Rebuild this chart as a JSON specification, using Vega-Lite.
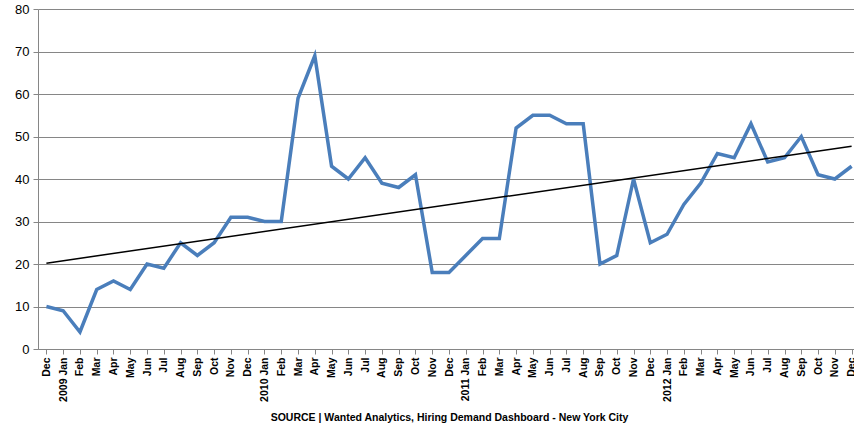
{
  "$schema": "https://vega.github.io/schema/vega-lite/v6.json",
  "autosize": "none",
  "width": 822,
  "height": 340,
  "padding": {"left": 38, "top": 9, "right": 0, "bottom": 83},
  "background": "white",
  "config": {"view": {"stroke": null}, "font": "Liberation Sans"},
  "data": {"values": [
    {"m": "Dec 2008", "v": 10, "trend": 20.2},
    {"m": "2009 Jan", "v": 9},
    {"m": "Feb 2009", "v": 4},
    {"m": "Mar 2009", "v": 14},
    {"m": "Apr 2009", "v": 16},
    {"m": "May 2009", "v": 14},
    {"m": "Jun 2009", "v": 20},
    {"m": "Jul 2009", "v": 19},
    {"m": "Aug 2009", "v": 25},
    {"m": "Sep 2009", "v": 22},
    {"m": "Oct 2009", "v": 25},
    {"m": "Nov 2009", "v": 31},
    {"m": "Dec 2009", "v": 31},
    {"m": "2010 Jan", "v": 30},
    {"m": "Feb 2010", "v": 30},
    {"m": "Mar 2010", "v": 59},
    {"m": "Apr 2010", "v": 69},
    {"m": "May 2010", "v": 43},
    {"m": "Jun 2010", "v": 40},
    {"m": "Jul 2010", "v": 45},
    {"m": "Aug 2010", "v": 39},
    {"m": "Sep 2010", "v": 38},
    {"m": "Oct 2010", "v": 41},
    {"m": "Nov 2010", "v": 18},
    {"m": "Dec 2010", "v": 18},
    {"m": "2011 Jan", "v": 22},
    {"m": "Feb 2011", "v": 26},
    {"m": "Mar 2011", "v": 26},
    {"m": "Apr 2011", "v": 52},
    {"m": "May 2011", "v": 55},
    {"m": "Jun 2011", "v": 55},
    {"m": "Jul 2011", "v": 53},
    {"m": "Aug 2011", "v": 53},
    {"m": "Sep 2011", "v": 20},
    {"m": "Oct 2011", "v": 22},
    {"m": "Nov 2011", "v": 40},
    {"m": "Dec 2011", "v": 25},
    {"m": "2012 Jan", "v": 27},
    {"m": "Feb 2012", "v": 34},
    {"m": "Mar 2012", "v": 39},
    {"m": "Apr 2012", "v": 46},
    {"m": "May 2012", "v": 45},
    {"m": "Jun 2012", "v": 53},
    {"m": "Jul 2012", "v": 44},
    {"m": "Aug 2012", "v": 45},
    {"m": "Sep 2012", "v": 50},
    {"m": "Oct 2012", "v": 41},
    {"m": "Nov 2012", "v": 40},
    {"m": "Dec 2012", "v": 43, "trend": 47.7}
  ]},
  "encoding": {
    "x": {
      "field": "m", "type": "ordinal", "sort": null,
      "scale": {"paddingInner": 0, "paddingOuter": 0},
      "axis": {
        "title": "SOURCE | Wanted Analytics, Hiring Demand Dashboard - New York City",
        "titleFont": "Liberation Sans", "titleFontSize": 10.5, "titleFontWeight": "bold", "titleColor": "#000000", "titlePadding": 11,
        "labelAngle": -90, "labelAlign": "right", "labelBaseline": "middle",
        "labelFontSize": 10.5, "labelFontWeight": "bold", "labelColor": "#000000", "labelPadding": 3,
        "labelExpr": "indexof(datum.value, 'Jan') >= 0 ? datum.value : split(datum.value, ' ')[0]",
        "domainColor": "#868686", "domainWidth": 1,
        "ticks": true, "tickColor": "#868686", "tickSize": 5, "bandPosition": 0,
        "grid": false
      }
    }
  },
  "layer": [
    {
      "mark": {"type": "line", "color": "#4a7ebb", "strokeWidth": 3.5, "strokeJoin": "miter"},
      "encoding": {
        "y": {
          "field": "v", "type": "quantitative",
          "scale": {"domain": [0, 80], "nice": false},
          "axis": {
            "title": null, "values": [0, 10, 20, 30, 40, 50, 60, 70, 80],
            "labelFontSize": 13, "labelColor": "#000000", "labelPadding": 4,
            "domainColor": "#868686", "tickColor": "#868686", "tickSize": 5,
            "grid": true, "gridColor": "#868686", "gridWidth": 1
          }
        }
      }
    },
    {
      "transform": [{"filter": "isValid(datum.trend)"}],
      "mark": {"type": "line", "color": "#000000", "strokeWidth": 1.5},
      "encoding": {
        "y": {"field": "trend", "type": "quantitative"}
      }
    }
  ]
}
